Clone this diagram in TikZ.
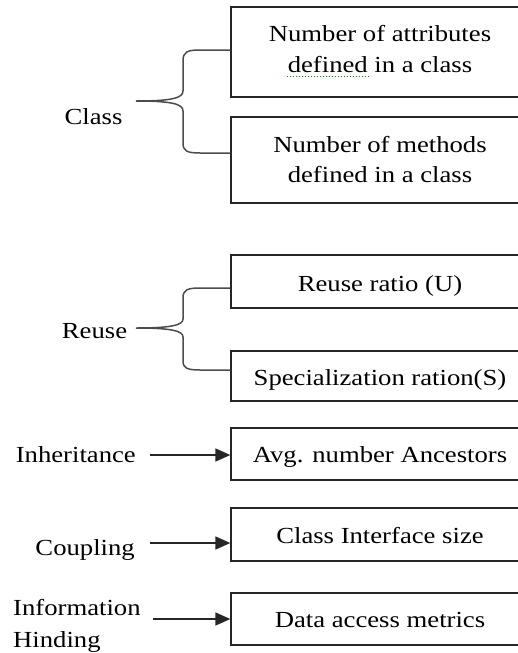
\documentclass[tikz,border=0pt]{standalone}
\usepackage{fontspec}
\setmainfont{Liberation Serif}[FakeStretch=1.16]
\usetikzlibrary{arrows.meta,calc}
\begin{document}
\begin{tikzpicture}[x=1pt,y=-1pt,
  box/.style={draw=black!85, line width=1.3pt, minimum width=298pt, inner sep=0pt},
  txt/.style={font=\fontsize{23}{31}\selectfont, inner sep=0pt, anchor=base},
  brace/.style={draw=black!70, line width=1.5pt},
  arr/.style={draw=black!85, line width=1.5pt, -{Triangle[length=15pt,width=13pt]}}]
\useasboundingbox (0,0) rectangle (518,653);
\clip (0,0) rectangle (518,653);
% boxes
\node[box, minimum height=90pt] (b1) at (380,52) {};
\node[box, minimum height=86pt] (b2) at (380,160) {};
\node[box, minimum height=53pt] (b3) at (380,281.5) {};
\node[box, minimum height=50pt] (b4) at (380,376) {};
\node[box, minimum height=52pt] (b5) at (380,454) {};
\node[box, minimum height=53pt] (b6) at (380,534.5) {};
\node[box, minimum height=52pt] (b7) at (380,619) {};
% box texts
\node[txt] (t1a) at (380,41) {Number of attributes};
\node[txt] (t1b) at (380,72) {defined in a class};
\node[txt] (t2a) at (380,152) {Number of methods};
\node[txt] (t2b) at (380,182) {defined in a class};
\node[txt] (t3) at (380,291) {Reuse ratio (U)};
\node[txt] (t4) at (380,385) {Specialization ration(S)};
\node[txt] (t5) at (380,462) {Avg. number Ancestors};
\node[txt] (t6) at (380,543) {Class Interface size};
\node[txt] (t7) at (380,627) {Data access metrics};
\draw[green!60!black, line width=1pt, dotted] (287,76) -- (370,76);
% left labels
\node[txt] (lclass) at (93.5,124) {Class};
\node[txt] (lreuse) at (94.5,338) {Reuse};
\node[txt, anchor=base east] (linh) at (136,462) {Inheritance};
\node[txt, anchor=base east] (lcoup) at (135,555) {Coupling};
\node[txt, anchor=north west, align=left, font=\fontsize{23}{32}\selectfont] (linfo) at (13,599) {Information\\Hinding};
% braces
\coordinate (ctip) at (136,101);
\coordinate (rtip) at (136,328);
\draw[brace] ([yshift=2pt]b1.west) -- (200,50) .. controls (187,50) and (183,52) .. (183,61) -- (183,91) .. controls (183,98) and (172,101) .. (ctip) .. controls (172,101) and (183,104) .. (183,111) -- (183,143) .. controls (183,151) and (187,153) .. (200,153) -- ([yshift=7pt]b2.west);
\draw[brace] ([yshift=-6.5pt]b3.west) -- (200,288) .. controls (187,288) and (183,290) .. (183,298) -- (183,319) .. controls (183,325) and (172,328) .. (rtip) .. controls (172,328) and (183,331) .. (183,337) -- (183,361) .. controls (183,368) and (187,370) .. (200,370) -- ([yshift=6pt]b4.west);
% arrows
\coordinate (a5) at (150,455);
\coordinate (a6) at (150,543);
\coordinate (a7) at (153,619);
\draw[arr] (a5) -- (a5 -| b5.west);
\draw[arr] (a6) -- (a6 -| b6.west);
\draw[arr] (a7) -- (a7 -| b7.west);
\end{tikzpicture}
\end{document}
